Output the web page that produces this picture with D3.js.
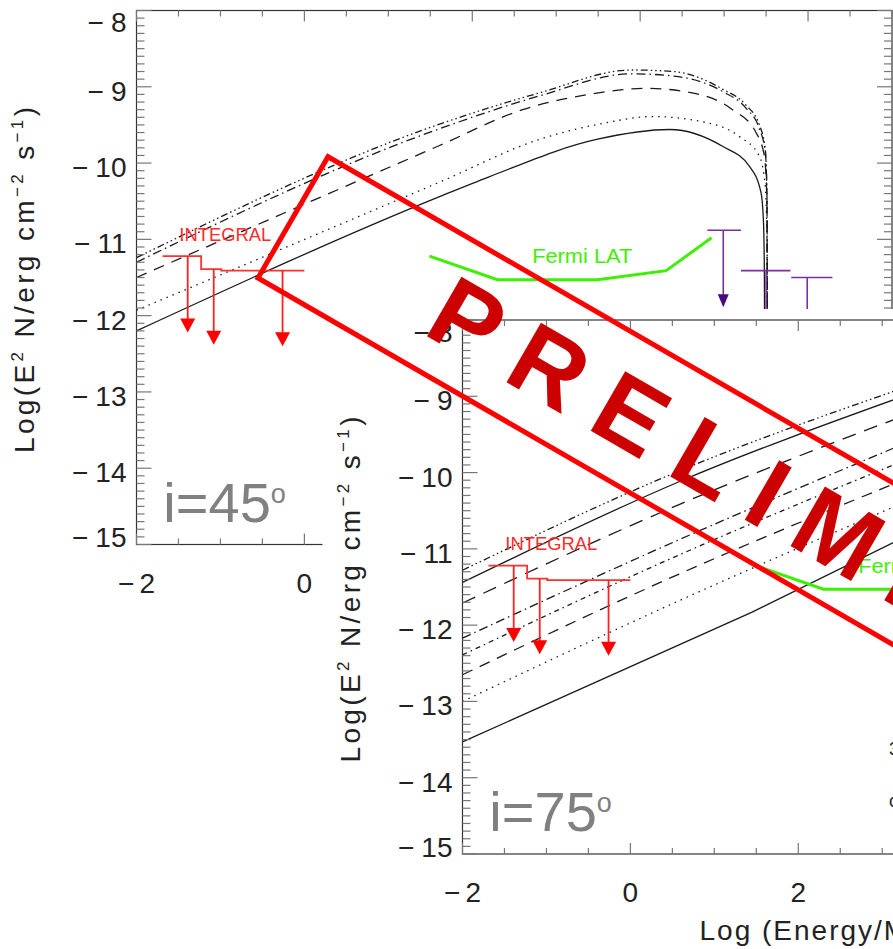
<!DOCTYPE html>
<html>
<head>
<meta charset="UTF-8">
<title>SED models i=45 / i=75</title>
<script src="https://cdn.jsdelivr.net/npm/d3@7"></script>
<style>
  body { margin: 0; background: #fff; }
  svg { display: block; }
  text { font-family: "Liberation Sans", Arial, Helvetica, sans-serif; }
</style>
</head>
<body>
<svg id="chart" width="893" height="949"></svg>
<script>
// log(E/MeV) vs log(E^2 N / erg cm^-2 s^-1)

// i = 45 deg model curves
var i45Solid    = [[-2,-12.20],[1.61,-10.44],[2.2,-10.18],[3.48,-9.69],[4.35,-9.56],[4.98,-9.78],[5.3,-10.04],[5.44,-10.39],[5.47,-10.8],[5.48,-11.5],[5.49,-16]];
var i45Dotted   = [[-2,-11.93],[1.61,-10.25],[2.8,-9.69],[3.6,-9.47],[4.14,-9.39],[4.79,-9.47],[5.18,-9.65],[5.42,-9.91],[5.49,-10.3],[5.51,-11],[5.52,-16]];
var i45Dashed   = [[-2,-11.50],[1.61,-9.77],[2.6,-9.30],[3.39,-9.10],[4.07,-9.02],[4.7,-9.10],[5.1,-9.30],[5.38,-9.60],[5.48,-9.91],[5.51,-10.5],[5.52,-16]];
var i45DashDot  = [[-2,-11.30],[1.61,-9.55],[2.8,-9.12],[3.9,-8.83],[4.4,-8.86],[4.98,-9.06],[5.26,-9.28],[5.42,-9.55],[5.49,-9.85],[5.51,-10.4],[5.52,-16]];
var i45Dash3Dot = [[-2,-11.24],[1.61,-9.49],[2.8,-9.08],[3.9,-8.78],[4.4,-8.80],[4.98,-9.03],[5.26,-9.24],[5.42,-9.50],[5.49,-9.82],[5.51,-10.4],[5.52,-16]];

// i = 75 deg model curves
var i75Dash3Dot  = [[-2,-11.28],[0.58,-9.98],[3.2,-8.91]];
var i75Solid     = [[-2,-11.44],[0.58,-10.12],[3.2,-9.02]];
var i75LongDash  = [[-2,-11.71],[0.58,-10.42],[3.2,-9.28]];
var i75DashDot   = [[-2,-12.17],[0.58,-10.88],[3.2,-9.65]];
var i75DashDot2  = [[-2,-12.39],[0.58,-11.08],[3.2,-9.87]];
var i75Dashed    = [[-2,-12.65],[0.58,-11.33],[3.2,-10.12]];
var i75Dotted    = [[-2,-13.00],[0.58,-11.68],[3.2,-10.42]];
var i75SolidLow  = [[-2,-13.53],[1.45,-11.83],[3.2,-10.88]];

// INTEGRAL upper limits
var intBinEdges = [-1.69, -1.23, -0.99, 0.00];
var intLevel    = [-11.22, -11.39, -11.41];
var intArrowX   = [-1.39, -1.08, -0.26];
var intArrowTip = [-12.22, -12.38, -12.40];

// Fermi LAT sensitivity
var fermiE   = [1.49, 2.30, 3.49, 4.31, 4.85];
var fermiVal = [-11.22, -11.53, -11.53, -11.41, -10.98];

// TeV upper limits
var tevCapLo = [4.80, 5.20, 5.80];
var tevCapHi = [5.20, 5.79, 6.29];
var tevX     = [4.99, 5.50, 5.99];
var tevLevel = [-10.88, -11.41, -11.50];
var tevTip   = [-11.89, -12.45, -12.55];

var yTickValues = [-15, -14, -13, -12, -11, -10, -9, -8];
var xTickValues = [-2, 0, 2, 4, 6];

var dashes = {
  solid: null,
  dot: "1.5,5",
  dash: "11,8",
  longdash: "14,9",
  dashdot: "9,4,1.5,4",
  dashdot2: "5,4,1.5,4",
  dash3dot: "7,3,1.5,3,1.5,3,1.5,3"
};

var panels = [
  { ox: 136.5, oy: 10.5, label: "45", bg: false, curves: [
      {pts: i45Solid, s: "solid"}, {pts: i45Dotted, s: "dot"}, {pts: i45Dashed, s: "dash"},
      {pts: i45DashDot, s: "dashdot"}, {pts: i45Dash3Dot, s: "dash3dot"}] },
  { ox: 462.5, oy: 320, label: "75", bg: true, curves: [
      {pts: i75Dash3Dot, s: "dash3dot"}, {pts: i75Solid, s: "solid"}, {pts: i75LongDash, s: "longdash"},
      {pts: i75DashDot, s: "dashdot"}, {pts: i75DashDot2, s: "dashdot2"}, {pts: i75Dashed, s: "dash"},
      {pts: i75Dotted, s: "dot"}, {pts: i75SolidLow, s: "solid", linear: true}] }
];

var pw = 755.5, ph = 534;
var x = d3.scaleLinear().domain([-2, 7]).range([0, pw]);
var y = d3.scaleLinear().domain([-15, -8]).range([ph, 0]);

var svg = d3.select("#chart");
var defs = svg.append("defs");
defs.append("clipPath").attr("id", "plotclip")
  .append("rect").attr("width", pw).attr("height", ph);

function arrowHead(g, xp, yp, w, h, color) {
  g.append("path")
    .attr("d", "M" + (xp - w / 2) + "," + (yp - h) + "L" + (xp + w / 2) + "," + (yp - h) + "L" + xp + "," + yp + "Z")
    .attr("fill", color);
}

panels.forEach(function(p, pi) {
  var g = svg.append("g").attr("transform", "translate(" + p.ox + "," + p.oy + ")");

  if (p.bg) {
    g.append("rect").attr("x", -140).attr("y", -11).attr("width", 1000).attr("height", 700).attr("fill", "#fff");
  }

  var plot = g.append("g").attr("clip-path", "url(#plotclip)");

  // model curves
  p.curves.forEach(function(c) {
    var line = d3.line().x(function(d) { return x(d[0]); }).y(function(d) { return y(d[1]); })
      .curve(c.linear ? d3.curveLinear : d3.curveMonotoneX);
    plot.append("path").attr("d", line(c.pts))
      .attr("fill", "none").attr("stroke", "#1a1a1a").attr("stroke-width", 1.3)
      .attr("stroke-dasharray", dashes[c.s]);
  });

  // INTEGRAL
  var intPts = intBinEdges.map(function(e, i) { return [e, intLevel[Math.min(i, intLevel.length - 1)]]; });
  plot.append("path")
    .attr("d", d3.line().x(function(d) { return x(d[0]); }).y(function(d) { return y(d[1]); }).curve(d3.curveStepAfter)(intPts))
    .attr("fill", "none").attr("stroke", "#ff3030").attr("stroke-width", 1.8);
  intArrowX.forEach(function(e, i) {
    var bin = d3.bisectRight(intBinEdges, e) - 1;
    plot.append("line")
      .attr("x1", x(e)).attr("x2", x(e))
      .attr("y1", y(intLevel[bin])).attr("y2", y(intArrowTip[i]) - 10)
      .attr("stroke", "#ff2020").attr("stroke-width", 1.8);
    arrowHead(plot, x(e), y(intArrowTip[i]), 15, 14, "#ff0000");
  });
  plot.append("text").attr("x", x(-1.49)).attr("y", y(-11.02))
    .attr("font-size", 19).attr("fill", "#ff2a2a")
    .attr("textLength", 92).attr("lengthAdjust", "spacingAndGlyphs")
    .text("INTEGRAL");

  // Fermi LAT
  plot.append("path")
    .attr("d", d3.line().x(function(d, i) { return x(d); }).y(function(d, i) { return y(fermiVal[i]); })(fermiE))
    .attr("fill", "none").attr("stroke", "#3ef000").attr("stroke-width", 3);
  plot.append("text").attr("x", x(2.714)).attr("y", y(-11.31))
    .attr("font-size", 20).attr("fill", "#3ef000")
    .attr("textLength", 100).attr("lengthAdjust", "spacingAndGlyphs")
    .text("Fermi LAT");

  // TeV upper limits
  tevX.forEach(function(e, i) {
    plot.append("line").attr("x1", x(tevCapLo[i])).attr("x2", x(tevCapHi[i]))
      .attr("y1", y(tevLevel[i])).attr("y2", y(tevLevel[i]))
      .attr("stroke", "#7a30a0").attr("stroke-width", 1.6);
    plot.append("line").attr("x1", x(e)).attr("x2", x(e))
      .attr("y1", y(tevLevel[i])).attr("y2", y(tevTip[i]) - 8)
      .attr("stroke", "#7a30a0").attr("stroke-width", 1.6);
    arrowHead(plot, x(e), y(tevTip[i]), 11, 13, "#4a0a7e");
  });

  // inclination label
  var lab = g.append("text").attr("x", x(-1.68)).attr("y", y(-14.70))
    .attr("font-size", 56).attr("fill", "#808080");
  lab.append("tspan").text("i=" + p.label);
  lab.append("tspan").attr("font-size", 27).attr("dy", -19).text("o");

  // frame
  g.append("rect").attr("width", pw).attr("height", ph)
    .attr("fill", "none").attr("stroke", "#333").attr("stroke-width", 1.2);

  var ticks = g.append("g").attr("stroke", "#777").attr("stroke-width", 1.2);
  d3.range(-150, -79).forEach(function(k) {
    var v = k / 10, yy = y(v), len = (k % 10 === 0) ? 15 : 8;
    ticks.append("line").attr("x1", 0).attr("x2", len).attr("y1", yy).attr("y2", yy);
    ticks.append("line").attr("x1", pw - len).attr("x2", pw).attr("y1", yy).attr("y2", yy);
  });
  d3.range(-4, 15).forEach(function(k) {
    var v = k / 2, xx = x(v), len = (k % 4 === 0) ? 11 : 6;
    ticks.append("line").attr("x1", xx).attr("x2", xx).attr("y1", ph).attr("y2", ph - len);
    ticks.append("line").attr("x1", xx).attr("x2", xx).attr("y1", 0).attr("y2", len);
  });

  // y tick labels
  yTickValues.forEach(function(v) {
    var by = Math.max(21.5, Math.min(ph + 2.5, y(v) + 14));
    var t = g.append("text").attr("x", -10).attr("y", by).attr("text-anchor", "end")
      .attr("font-size", 28).attr("fill", "#222");
    t.append("tspan").text("\u2212");
    t.append("tspan").attr("dx", 7).text(String(-v));
  });
  // x tick labels
  xTickValues.forEach(function(v) {
    var t = g.append("text").attr("x", x(v)).attr("y", ph + 48).attr("text-anchor", "middle")
      .attr("font-size", 28).attr("fill", "#222");
    if (v < 0) {
      t.append("tspan").text("\u2212");
      t.append("tspan").attr("dx", 5).text(String(-v));
    } else {
      t.text(String(v));
    }
  });

  // axis titles
  var yt = g.append("text").attr("transform", "translate(-103," + 269.5 + ") rotate(-90)")
    .attr("text-anchor", "middle").attr("font-size", 28).attr("fill", "#222")
    .attr("textLength", 346).attr("lengthAdjust", "spacing");
  yt.append("tspan").text("Log(E");
  yt.append("tspan").attr("font-size", 17).attr("dy", -11).text("2");
  yt.append("tspan").attr("dy", 11).text(" N/erg cm");
  yt.append("tspan").attr("font-size", 17).attr("dy", -11).text("\u22122");
  yt.append("tspan").attr("dy", 11).text(" s");
  yt.append("tspan").attr("font-size", 17).attr("dy", -11).text("\u22121");
  yt.append("tspan").attr("dy", 11).text(")");

  g.append("text").attr("x", 237).attr("y", ph + 86)
    .attr("font-size", 28).attr("fill", "#222").attr("letter-spacing", 2)
    .text("Log (Energy/MeV)");

  if (p.bg) {
    // partial legend glyphs at the right edge
    g.append("text").attr("x", 889 - p.ox).attr("y", 755 - p.oy).attr("font-size", 18).attr("fill", "#222").text("3");
    g.append("text").attr("x", 889 - p.ox).attr("y", 807 - p.oy).attr("font-size", 18).attr("fill", "#222").text("c");
  }
});

// PRELIMINARY stamp
var stamp = svg.append("g").attr("transform", "translate(258,278) rotate(30)");
stamp.append("rect").attr("x", 0).attr("y", -140).attr("width", 1200).attr("height", 140)
  .attr("fill", "none").attr("stroke", "#ff0000").attr("stroke-width", 5);
stamp.append("text").attr("x", 169).attr("y", -34)
  .attr("font-size", 100).attr("font-weight", "bold").attr("fill", "#cc0000")
  .attr("letter-spacing", 25)
  .text("PRELIMINARY");
</script>
</body>
</html>
